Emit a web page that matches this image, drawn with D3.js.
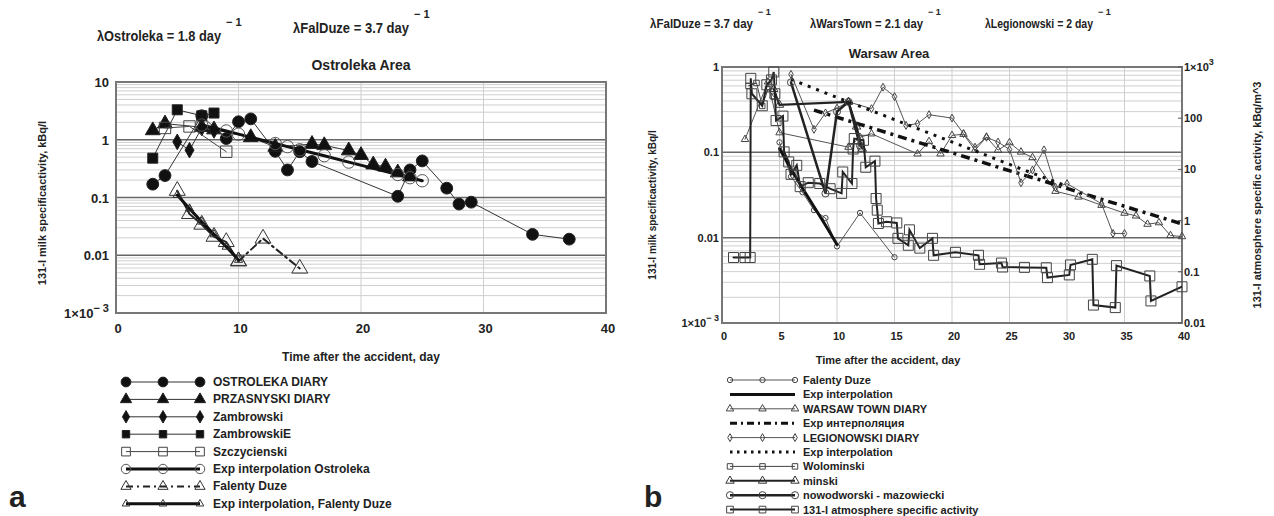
<!DOCTYPE html>
<html>
<head>
<meta charset="utf-8">
<script src="https://cdn.jsdelivr.net/npm/d3@7"></script>
<style>
  body { margin: 0; background: #fff; }
  text { font-family: Arial, "Liberation Sans", sans-serif; fill: #222; }
</style>
</head>
<body>
<svg id="chart" width="1274" height="516"></svg>
<script>
// ---------- panel a : Ostroleka area (day, kBq/l) ----------
const ostrolekaDiary = [[3,0.17],[4,0.24],[7,2.6],[9,1.05],[10,2.05],[11,2.3],[13,0.63],[14,0.3],[15,0.62],[16,0.42],[23,0.105],[24,0.3],[25,0.43],[27,0.145],[28,0.077],[29,0.083],[34,0.023],[37,0.019]];
const przasnyskiDiary = [[3,1.45],[4,1.9],[7,1.65],[8,1.5],[11,1.1],[13,0.75],[16,0.84],[17,0.8],[19,0.65],[20,0.54],[21,0.37],[22,0.34],[23,0.27],[24,0.23]];
const zambrowski = [[5,0.92],[6,0.66],[7,1.6],[8,1.45]];
const zambrowskiE = [[3,0.48],[5,3.3],[7,2.6],[8,2.9]];
const szczycienski = [[4,1.6],[6,1.7],[9,0.62]];
const expOstroleka = [[7,1.8],[9,1.42],[10,1.25],[13,0.86],[14,0.76],[15,0.67],[17,0.53],[19,0.41],[23,0.25],[24,0.22],[25,0.195]];
const falentyDuze = [[5,0.131],[6,0.052],[7,0.034],[8,0.021],[9,0.017],[10,0.0079],[12,0.0195],[15,0.0059]];
const expFalenty = [[5,0.11],[6,0.064],[7,0.038],[8,0.023],[9,0.014],[10,0.0083]];

// ---------- panel b : Warsaw area ----------
const warsawTown = [[2,0.142],[4,0.67],[5,0.17],[11,0.115],[12,0.15],[13,0.165],[17,0.096],[18,0.134],[19,0.096],[20,0.158],[21,0.163],[22,0.106],[23,0.151],[24,0.106],[25,0.13],[26,0.101],[27,0.087],[29,0.035],[31,0.03],[33,0.024],[35,0.0194],[36,0.018],[37,0.0144],[38,0.015],[39,0.0106],[40,0.0103]];
const expWarsTown = [[8,0.313],[12,0.213],[16,0.145],[20,0.099],[24,0.067],[28,0.046],[32,0.031],[36,0.0212],[40,0.0145]];
const legionowski = [[6,0.82],[8,0.186],[9,0.29],[10,0.33],[11,0.39],[13,0.325],[14,0.58],[15,0.45],[16,0.207],[17,0.217],[18,0.276],[20,0.252],[21,0.166],[22,0.115],[23,0.15],[24,0.132],[25,0.108],[26,0.044],[27,0.062],[28,0.107],[29,0.039],[30,0.043],[33,0.025],[34,0.0112],[35,0.0112]];
const expLegionowski = [[6,0.716],[10,0.44],[14,0.273],[18,0.168],[22,0.104],[26,0.064],[30,0.04]];
const wolominski = [[2.3,0.6],[3,0.65],[3.5,0.35],[4,0.55],[4.5,0.45]];
const minski = [[4.5,0.55],[5,0.36],[11,0.39],[11.7,0.2],[12.2,0.11]];
const nowodworski = [[6,0.66],[9,0.033],[10,0.3],[11,0.39],[12,0.12]];
// atmosphere, kBq/m^3 (right axis)
const atmosphere = [[1,0.19],[2,0.19],[2.45,0.19],[2.5,600],[2.6,300],[3.5,175],[3.9,450],[4.3,560],[4.5,800],[4.6,300],[4.7,90],[5.3,110],[5.4,22],[5.8,14],[6,8],[6.5,12],[6.8,4.6],[7.5,5.5],[8.5,5.3],[9.4,4.2],[10.4,3.4],[10.5,8.9],[11.3,5.3],[11.4,25],[11.5,40],[12.3,37],[12.5,11],[13.3,14.5],[13.4,2.7],[13.5,1.6],[13.6,0.88],[14.3,0.95],[15.2,0.9],[15.3,0.45],[16.2,0.33],[16.3,0.66],[17.2,0.29],[18.3,0.45],[18.4,0.21],[20.3,0.24],[22.3,0.21],[22.4,0.14],[24.3,0.148],[24.4,0.124],[26.3,0.122],[28.2,0.12],[28.3,0.077],[30.2,0.087],[30.3,0.136],[32.2,0.175],[32.3,0.0224],[34.2,0.02],[34.3,0.132],[37.2,0.083],[37.3,0.027],[40,0.051]];

// ticks
const xTicksA = [0,10,20,30,40];
const xTicksB = [0,5,10,15,20,25,30,35,40];
const yTicksA = [10,1,0.1,0.01,0.001];
const yTicksB = [1,0.1,0.01,0.001];
const yTicksB2 = [1000,100,10,1,0.1,0.01];

const svg = d3.select('#chart');

const xA = d3.scaleLinear().domain([0,40]).range([116,606]);
const yA = d3.scaleLog().domain([0.001,10]).range([313,82]);
const xB = d3.scaleLinear().domain([0,40]).range([722,1182]);
const yB = d3.scaleLog().domain([0.001,1]).range([323,67]);
const yB2 = d3.scaleLog().domain([0.01,1000]).range([323,67]);

const sym = { circle: d3.symbolCircle, tri: d3.symbolTriangle, diamond: d3.symbolDiamond, square: d3.symbolSquare };

function grid(x, y, xTicks, majors) {
  const g = svg.append('g');
  const [y0, y1] = y.domain();
  const minors = [];
  for (let e = Math.log10(y0); e < Math.log10(y1); e++)
    for (let k = 2; k <= 9; k++) minors.push(k * Math.pow(10, e));
  g.selectAll(null).data(minors).enter().append('line')
    .attr('x1', x.range()[0]).attr('x2', x.range()[1])
    .attr('y1', d => y(d)).attr('y2', d => y(d))
    .attr('stroke', '#cfcfcf').attr('stroke-width', 1);
  g.selectAll(null).data(xTicks.slice(1, -1)).enter().append('line')
    .attr('x1', d => x(d)).attr('x2', d => x(d))
    .attr('y1', y.range()[0]).attr('y2', y.range()[1])
    .attr('stroke', '#cfcfcf').attr('stroke-width', 1);
  g.selectAll(null).data(majors).enter().append('line')
    .attr('x1', x.range()[0]).attr('x2', x.range()[1])
    .attr('y1', d => y(d)).attr('y2', d => y(d))
    .attr('stroke', '#666').attr('stroke-width', 1.5);
  g.append('rect')
    .attr('x', x.range()[0]).attr('y', y.range()[1])
    .attr('width', x.range()[1] - x.range()[0]).attr('height', y.range()[0] - y.range()[1])
    .attr('fill', 'none').attr('stroke', '#777').attr('stroke-width', 2);
}

function tickLabel(g, v, x, y, anchor, size) {
  const t = g.append('text').attr('x', x).attr('y', y).attr('text-anchor', anchor)
    .attr('font-size', size).attr('font-weight', 'bold');
  if (v === 0.001 || v === 1000) {
    t.append('tspan').text('1\u00d710');
    t.append('tspan').attr('dy', -6).attr('font-size', size - 2).text(v < 1 ? '\u2212 3' : '3');
  } else t.text(v);
}

function drawSeries(g, data, x, y, st) {
  const line = d3.line().x(d => x(d[0])).y(d => y(d[1]));
  g.append('path').datum(data).attr('d', line)
    .attr('fill', 'none').attr('stroke', st.color || '#222')
    .attr('stroke-width', st.w).attr('stroke-dasharray', st.dash || null)
    .attr('stroke-linecap', st.dash && st.w > 2 ? 'butt' : 'round')
    .attr('clip-path', st.clip);
  if (st.sym) {
    g.selectAll(null).data(data).enter().append('path')
      .attr('transform', d => `translate(${x(d[0])},${y(d[1])})`)
      .attr('d', d3.symbol().type(sym[st.sym]).size(st.size))
      .attr('fill', st.fill ? (st.mcolor || '#111') : 'none')
      .attr('stroke', st.mcolor || '#222').attr('stroke-width', st.mw || 1);
  }
}

function legend(items, x0, x1, y0, dy, size) {
  const g = svg.append('g');
  items.forEach((it, i) => {
    const y = y0 + i * dy;
    const st = it.st;
    g.append('line').attr('x1', x0).attr('x2', x1).attr('y1', y).attr('y2', y)
      .attr('stroke', st.color || '#222').attr('stroke-width', Math.min(st.w, 3))
      .attr('stroke-dasharray', st.ldash || st.dash || null);
    if (st.sym) {
      [x0, (x0 + x1) / 2, x1].forEach(mx => {
        g.append('path').attr('transform', `translate(${mx},${y})`)
          .attr('d', d3.symbol().type(sym[st.sym]).size(st.lsize || st.size))
          .attr('fill', st.fill ? (st.mcolor || '#111') : 'none')
          .attr('stroke', st.mcolor || '#222').attr('stroke-width', st.mw || 1);
      });
    }
    g.append('text').attr('x', x1 + 13 - (size < 12 ? 5 : 0)).attr('y', y + 4)
      .attr('font-size', size).attr('font-weight', 'bold').text(it.label);
  });
}

// clip paths
const defs = svg.append('defs');
defs.append('clipPath').attr('id', 'clipA').append('rect').attr('x', 116).attr('y', 82).attr('width', 490).attr('height', 231);
defs.append('clipPath').attr('id', 'clipB').append('rect').attr('x', 722).attr('y', 67).attr('width', 460).attr('height', 256);

// ================= panel a =================
grid(xA, yA, xTicksA, [1, 0.1, 0.01]);
const ga = svg.append('g');
const stA = {
  ostroleka: { w: 1, color: '#333', sym: 'circle', size: 110, lsize: 75, fill: true, clip: 'url(#clipA)' },
  przasnyski: { w: 1, color: '#333', sym: 'tri', size: 95, lsize: 55, fill: true, clip: 'url(#clipA)' },
  zambrowski: { w: 1, color: '#333', sym: 'diamond', size: 70, lsize: 45, fill: true, clip: 'url(#clipA)' },
  zambrowskiE: { w: 1, color: '#333', sym: 'square', size: 100, lsize: 55, fill: true, clip: 'url(#clipA)' },
  szczycienski: { w: 1, color: '#444', sym: 'square', size: 130, lsize: 75, mcolor: '#444', clip: 'url(#clipA)' },
  expOstroleka: { w: 3, color: '#111', sym: 'circle', size: 120, lsize: 70, mcolor: '#555', clip: 'url(#clipA)' },
  falenty: { w: 2, color: '#222', dash: '7,4,2,4', sym: 'tri', size: 110, lsize: 45, mcolor: '#333', clip: 'url(#clipA)' },
  expFalenty: { w: 3, color: '#111', sym: 'tri', size: 30, lsize: 25, mcolor: '#333', clip: 'url(#clipA)' }
};
drawSeries(ga, ostrolekaDiary, xA, yA, stA.ostroleka);
drawSeries(ga, przasnyskiDiary, xA, yA, stA.przasnyski);
drawSeries(ga, zambrowski, xA, yA, stA.zambrowski);
drawSeries(ga, zambrowskiE, xA, yA, stA.zambrowskiE);
drawSeries(ga, szczycienski, xA, yA, stA.szczycienski);
drawSeries(ga, expOstroleka, xA, yA, stA.expOstroleka);
drawSeries(ga, falentyDuze.slice(5), xA, yA, stA.falenty);
drawSeries(ga, falentyDuze.slice(0, 6), xA, yA, Object.assign({}, stA.falenty, { dash: null }));
drawSeries(ga, expFalenty, xA, yA, stA.expFalenty);

const axA = svg.append('g');
xTicksA.forEach(v => axA.append('text').attr('x', xA(v) + 2).attr('y', 333).attr('text-anchor', 'middle')
  .attr('font-size', 13).attr('font-weight', 'bold').text(v));
yTicksA.forEach(v => tickLabel(axA, v, 109, yA(v) + 5, 'end', 13));
axA.append('text').attr('x', 361).attr('y', 361).attr('text-anchor', 'middle').attr('font-size', 12)
  .attr('font-weight', 'bold').text('Time after the accident, day');
axA.append('text').attr('transform', 'translate(46,203) rotate(-90)').attr('text-anchor', 'middle')
  .attr('font-size', 11).attr('font-weight', 'bold').text('131-I milk specificactivity, kBq/l');
axA.append('text').attr('x', 361).attr('y', 70).attr('text-anchor', 'middle').attr('font-size', 14)
  .attr('font-weight', 'bold').attr('fill', '#333').text('Ostroleka Area');

legend([
  { label: 'OSTROLEKA DIARY', st: stA.ostroleka },
  { label: 'PRZASNYSKI DIARY', st: stA.przasnyski },
  { label: 'Zambrowski', st: stA.zambrowski },
  { label: 'ZambrowskiE', st: stA.zambrowskiE },
  { label: 'Szczycienski', st: stA.szczycienski },
  { label: 'Exp  interpolation Ostroleka', st: stA.expOstroleka },
  { label: 'Falenty Duze', st: stA.falenty },
  { label: 'Exp  interpolation, Falenty Duze', st: stA.expFalenty }
], 126, 200, 382, 17.4, 12);

// ================= panel b =================
grid(xB, yB, xTicksB, [0.1, 0.01]);
const gb = svg.append('g');
const stB = {
  falenty: { w: 1, color: '#555', sym: 'circle', size: 22, mcolor: '#444', clip: 'url(#clipB)' },
  expFal: { w: 3, color: '#111', clip: 'url(#clipB)' },
  warsaw: { w: 1, color: '#555', sym: 'tri', size: 24, mcolor: '#444', clip: 'url(#clipB)' },
  expWars: { w: 3.5, color: '#111', dash: '9,5,3,5', ldash: '7,4,2,4', clip: 'url(#clipB)' },
  legion: { w: 1, color: '#555', sym: 'diamond', size: 18, mcolor: '#444', clip: 'url(#clipB)' },
  expLeg: { w: 3, color: '#111', dash: '3,6', ldash: '2.5,4.5', clip: 'url(#clipB)' },
  wolom: { w: 1, color: '#444', sym: 'square', size: 30, mcolor: '#444', clip: 'url(#clipB)' },
  minski: { w: 2, color: '#222', sym: 'tri', size: 30, mcolor: '#333', clip: 'url(#clipB)' },
  nowod: { w: 2.5, color: '#222', sym: 'circle', size: 40, mcolor: '#444', clip: 'url(#clipB)' },
  atmos: { w: 2, color: '#222', sym: 'square', size: 100, mcolor: '#444', lsize: 45, clip: 'url(#clipB)' }
};
drawSeries(gb, falentyDuze, xB, yB, stB.falenty);
drawSeries(gb, expFalenty, xB, yB, stB.expFal);
drawSeries(gb, warsawTown, xB, yB, stB.warsaw);
drawSeries(gb, expWarsTown, xB, yB, stB.expWars);
drawSeries(gb, legionowski, xB, yB, stB.legion);
drawSeries(gb, expLegionowski, xB, yB, stB.expLeg);
drawSeries(gb, wolominski, xB, yB, stB.wolom);
drawSeries(gb, minski, xB, yB, stB.minski);
drawSeries(gb, nowodworski, xB, yB, stB.nowod);
drawSeries(gb, atmosphere, xB, yB2, stB.atmos);

const axB = svg.append('g');
xTicksB.forEach(v => axB.append('text').attr('x', xB(v) + 2).attr('y', 340).attr('text-anchor', 'middle')
  .attr('font-size', 11).attr('font-weight', 'bold').text(v));
yTicksB.forEach(v => tickLabel(axB, v, 719, yB(v) + 4, 'end', 11));
yTicksB2.forEach(v => {
  axB.append('line').attr('x1', 1178).attr('x2', 1182).attr('y1', yB2(v)).attr('y2', yB2(v)).attr('stroke', '#555');
  tickLabel(axB, v, 1184, yB2(v) + 4, 'start', 11);
});
axB.append('text').attr('x', 888).attr('y', 364).attr('text-anchor', 'middle').attr('font-size', 11)
  .attr('font-weight', 'bold').text('Time after the accident, day');
axB.append('text').attr('transform', 'translate(656,205) rotate(-90)').attr('text-anchor', 'middle')
  .attr('font-size', 10).attr('font-weight', 'bold').text('131-I milk specificactivity, kBq/l');
axB.append('text').attr('transform', 'translate(1261,195) rotate(-90)').attr('text-anchor', 'middle')
  .attr('font-size', 11).attr('font-weight', 'bold').text('131-I atmosphere specific activity, kBq/m^3');
axB.append('text').attr('x', 889).attr('y', 58).attr('text-anchor', 'middle').attr('font-size', 13)
  .attr('font-weight', 'bold').attr('fill', '#333').text('Warsaw Area');

legend([
  { label: 'Falenty Duze', st: stB.falenty },
  { label: 'Exp  interpolation', st: stB.expFal },
  { label: 'WARSAW TOWN DIARY', st: stB.warsaw },
  { label: 'Exp интерполяция', st: stB.expWars },
  { label: 'LEGIONOWSKI DIARY', st: stB.legion },
  { label: 'Exp interpolation', st: stB.expLeg },
  { label: 'Wolominski', st: stB.wolom },
  { label: 'minski', st: stB.minski },
  { label: 'nowodworski - mazowiecki', st: stB.nowod },
  { label: '131-I atmosphere specific activity', st: stB.atmos }
], 730, 795, 380, 14.4, 11);

// ---------- decay constants ----------
const lambdas = [
  { x: 97, y: 41, size: 15, w: 124, main: '\u03bbOstroleka = 1.8 day' },
  { x: 293, y: 33, size: 15, w: 116, main: '\u03bbFalDuze = 3.7 day' },
  { x: 650, y: 28, size: 13, w: 103, main: '\u03bbFalDuze = 3.7 day' },
  { x: 810, y: 28, size: 13, w: 113, main: '\u03bbWarsTown = 2.1 day' },
  { x: 985, y: 28, size: 13, w: 108, main: '\u03bbLegionowski = 2 day' }
];
lambdas.forEach(l => {
  svg.append('text').attr('x', l.x).attr('y', l.y).attr('font-size', l.size).attr('font-weight', 'bold')
    .attr('textLength', l.w).attr('lengthAdjust', 'spacingAndGlyphs').text(l.main);
  svg.append('text').attr('x', l.x + l.w + 5).attr('y', l.y - l.size * 1.0)
    .attr('font-size', l.size - 4).attr('font-weight', 'bold').text('\u2212 1');
});

svg.append('text').attr('x', 9).attr('y', 507).attr('font-family', '"Liberation Serif", "DejaVu Serif", serif')
  .attr('font-size', 30).attr('font-weight', 'bold').text('a');
svg.append('text').attr('x', 644).attr('y', 507).attr('font-family', '"Liberation Serif", "DejaVu Serif", serif')
  .attr('font-size', 30).attr('font-weight', 'bold').text('b');
</script>
</body>
</html>
